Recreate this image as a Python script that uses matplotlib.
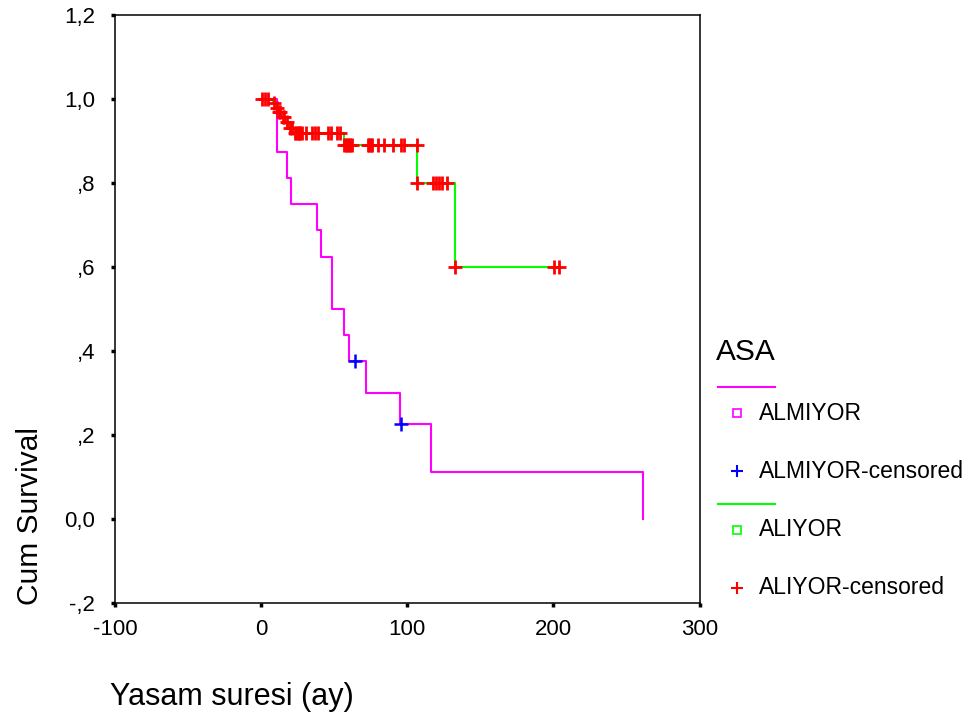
import numpy as np
import matplotlib
matplotlib.use('Agg')
import matplotlib.pyplot as plt
from matplotlib.lines import Line2D

plt.rcParams['font.family'] = ['Liberation Sans', 'DejaVu Sans']

# ALMIYOR (no ASA) - Kaplan-Meier steps
almiyor_t = [0, 11, 17.5, 20.5, 38, 41, 48.5, 57, 60, 72, 95, 116, 261]
almiyor_s = [1.0, 0.875, 0.8125, 0.75, 0.6875, 0.625, 0.5, 0.4375, 0.375,
             0.30, 0.225, 0.1125, 0.0]
almiyor_cens = [64, 95.5]

# ALIYOR (ASA) - Kaplan-Meier steps
aliyor_t = [0, 8, 10, 12, 14, 17, 19, 22, 57, 107, 132.5, 204]
aliyor_s = [1.0, 0.99, 0.98, 0.97, 0.957, 0.945, 0.932, 0.92, 0.89,
            0.80, 0.60, 0.60]
aliyor_cens = [1, 3, 5, 9, 11, 12.5, 13, 15, 16, 18, 20, 21,
               23, 24, 25, 26, 27, 28, 31, 35, 37, 39, 46, 48, 52, 54,
               57, 58, 59, 60, 61, 62, 73, 74, 75, 76, 80, 84, 90, 96, 98, 106.5,
               107, 117.5, 120, 122, 124, 127,
               132.5, 200.5, 204]

x_ticks = [-100, 0, 100, 200, 300]
y_ticks = [-0.2, 0.0, 0.2, 0.4, 0.6, 0.8, 1.0, 1.2]
y_tick_labels = ['-,2', '0,0', ',2', ',4', ',6', ',8', '1,0', '1,2']


def step_value(times, surv, t):
    idx = np.searchsorted(times, t, side='right') - 1
    return np.asarray(surv)[idx]


fig = plt.figure(figsize=(9.73, 7.27), dpi=100)
ax = fig.add_axes([0.118, 0.171, 0.601, 0.808])

ax.step(almiyor_t, almiyor_s, where='post', color='#ff00ff', lw=1.5, zorder=2)
ax.step(aliyor_t, aliyor_s, where='post', color='#00ff00', lw=1.5, zorder=2)

ax.plot(almiyor_cens, step_value(almiyor_t, almiyor_s, almiyor_cens),
        ls='none', marker='+', color='#0000ff', ms=10, mew=1.8, zorder=3)
ax.plot(aliyor_cens, step_value(aliyor_t, aliyor_s, aliyor_cens),
        ls='none', marker='+', color='#ff0000', ms=10, mew=2.0, zorder=3)

ax.set_xlim(-100, 300)
ax.set_ylim(-0.2, 1.2)
ax.set_xticks(x_ticks)
ax.set_xticklabels([str(v) for v in x_ticks])
ax.set_yticks(y_ticks)
ax.set_yticklabels(y_tick_labels)
ax.tick_params(direction='out', length=3, width=2.5, labelsize=16, color='black')
ax.tick_params(axis='y', pad=11)
ax.tick_params(axis='x', pad=9)
for sp in ax.spines.values():
    sp.set_linewidth(1.1)

fig.text(0.031, 0.29, 'Cum Survival', rotation=90, ha='center', va='center', fontsize=21.5)
fig.text(0.113, 0.041, 'Yasam suresi (ay)', ha='left', va='center', fontsize=22)

# manual legend in figure pixels
W, H = 973, 727


def fx(px):
    return px / W


def fy(py):
    return 1 - py / H


fig.text(fx(716), fy(352), 'ASA', ha='left', va='center', fontsize=21.5)
entries = [
    ('line', '#ff00ff', 387, None),
    ('s', '#ff00ff', 413, 'ALMIYOR'),
    ('+', '#0000ff', 471, 'ALMIYOR-censored'),
    ('line', '#00ff00', 504, None),
    ('s', '#00ff00', 530, 'ALIYOR'),
    ('+', '#ff0000', 588, 'ALIYOR-censored'),
]
for kind, col, py, label in entries:
    if kind == 'line':
        fig.add_artist(Line2D([fx(718), fx(775)], [fy(py), fy(py)], color=col, lw=1.5))
    else:
        if kind == 's':
            fig.add_artist(Line2D([fx(737)], [fy(py)], marker='s', ms=6, mfc='none',
                                  mec=col, mew=1.2, ls='none'))
        else:
            fig.add_artist(Line2D([fx(737)], [fy(py)], marker='+', ms=9, mec=col,
                                  mew=1.5, ls='none'))
        fig.text(fx(759), fy(py), label, ha='left', va='center', fontsize=16.5)

fig.savefig('out.png', dpi=100)
